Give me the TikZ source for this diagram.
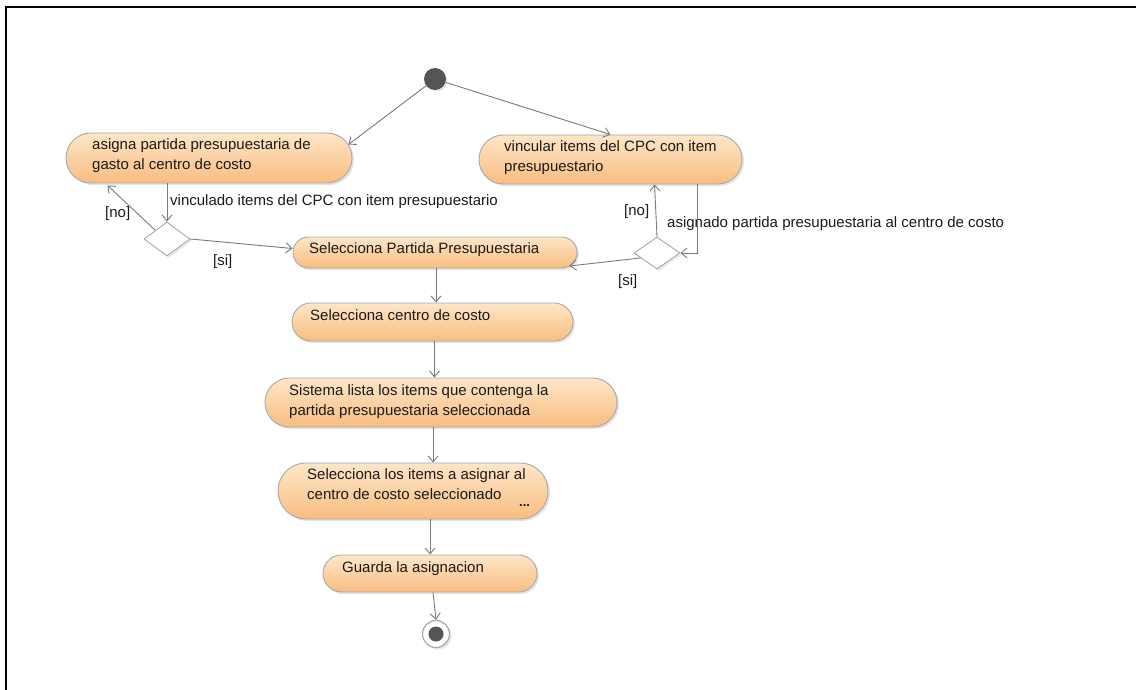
\documentclass[tikz,border=0pt]{standalone}
\usepackage{fontspec}
\setmainfont{Liberation Sans}
\usetikzlibrary{shapes.geometric,arrows.meta,calc,shadows}
\definecolor{linegray}{HTML}{7A7A7A}
\definecolor{boxborder}{HTML}{A8A8A8}
\definecolor{fillTop}{HTML}{FEE6C8}
\definecolor{fillBot}{HTML}{F8BD80}
\definecolor{dotgray}{HTML}{555555}
\definecolor{txtcol}{HTML}{1A1A1A}
\begin{document}
\begin{tikzpicture}[x=1pt,y=-1pt,
  act/.style={draw=boxborder, line width=0.9pt, top color=fillTop, bottom color=fillBot, inner sep=0pt,
    drop shadow={shadow xshift=2pt, shadow yshift=-2pt, opacity=0.22}},
  dec/.style={diamond, draw=boxborder, fill=white, line width=0.9pt, inner sep=0pt,
    drop shadow={shadow xshift=2pt, shadow yshift=-2pt, opacity=0.18}},
  lbl/.style={font=\fontsize{15}{18}\selectfont, text=txtcol, inner sep=0pt, anchor=base west},
  arr/.style={draw=linegray, line width=0.9pt, -{Straight Barb[length=6pt,width=10pt,line width=0.9pt]}}
]
\useasboundingbox (0,0) rectangle (1136,690);
% frame
\draw[line width=2.5pt] (6,690) -- (6,7) -- (1136,7);

% start / end
\node[circle, fill=dotgray, minimum size=22pt, inner sep=0pt,
  drop shadow={shadow xshift=1.5pt, shadow yshift=-1.5pt, opacity=0.18}] (init) at (435,79) {};
\node[circle, draw=boxborder, fill=white, line width=1.2pt, minimum size=27pt, inner sep=0pt,
  drop shadow={shadow xshift=2pt, shadow yshift=-2pt, opacity=0.2}] (fin) at (436,634) {};
\node[circle, fill=dotgray, minimum size=15pt, inner sep=0pt] (finin) at (fin.center) {};

% activities
\node[act, minimum width=286pt, minimum height=50pt, rounded corners=24.9pt] (A) at (209,158) {};
\node[act, minimum width=263pt, minimum height=49pt, rounded corners=24.4pt] (B) at (610.5,159.5) {};
\node[act, minimum width=284pt, minimum height=31pt, rounded corners=15.4pt] (C) at (435,252.5) {};
\node[act, minimum width=281pt, minimum height=38pt, rounded corners=18.9pt] (D) at (432.5,322) {};
\node[act, minimum width=352pt, minimum height=49pt, rounded corners=24.4pt] (E) at (441,402.5) {};
\node[act, minimum width=270pt, minimum height=56pt, rounded corners=27.9pt] (F) at (413,491) {};
\node[act, minimum width=214pt, minimum height=37pt, rounded corners=18.4pt] (G) at (430,573.5) {};

% decisions
\node[dec, minimum width=46pt, minimum height=34pt] (D1) at (167,239) {};
\node[dec, minimum width=46pt, minimum height=32pt] (D2) at (657,253) {};

% texts in activities
\node[lbl] (tA1) at (92,150) {asigna partida presupuestaria de};
\node[lbl] (tA2) at (92,170) {gasto al centro de costo};
\node[lbl] (tB1) at (504,152) {vincular items del CPC con item};
\node[lbl] (tB2) at (504,172) {presupuestario};
\node[lbl] (tC) at (309,253) {Selecciona Partida Presupuestaria};
\node[lbl] (tD) at (310,320) {Selecciona centro de costo};
\node[lbl] (tE1) at (289,395) {Sistema lista los items que contenga la};
\node[lbl] (tE2) at (289,415) {partida presupuestaria seleccionada};
\node[lbl] (tF1) at (307,479) {Selecciona los items a asignar al};
\node[lbl] (tF2) at (307,499) {centro de costo seleccionado};
\node[lbl, font=\fontsize{13}{15}\selectfont\bfseries] (tF3) at (519,506) {...};
\node[lbl] (tG) at (342,572) {Guarda la asignacion};

% connector labels
\node[lbl] (l1) at (170,205) {vinculado items del CPC con item presupuestario};
\node[lbl] (l2) at (667,227) {asignado partida presupuestaria al centro de costo};
\node[lbl] (no1) at (105,218) {[no]};
\node[lbl] (si1) at (213,265) {[si]};
\node[lbl] (no2) at (624,215) {[no]};
\node[lbl] (si2) at (618,285) {[si]};

% connectors
\draw[arr] (init) -- ($(A.north east)+(-4,12)$);
\draw[arr] (init) -- (B.north);
\draw[arr] (A.south -| D1.north) -- (D1.north);
\draw[arr] (D1.north west) -- ($(A.south west)+(42,2)$);
\draw[arr] (D1.east) -- ($(C.west)+(0,-4)$);
\draw[arr] ($(B.south east)+(-45,0)$) |- (D2.east);
\draw[arr] (D2.north) -- ($(B.south west)+(176,0)$);
\draw[arr] ($(D2.west)!0.3!(D2.south)$) -- ($(C.east)+(-8,13.5)$);
\coordinate (c1) at ($(C.south)+(1,0)$);
\draw[arr] (c1) -- (c1 |- D.north);
\coordinate (d1) at ($(D.south)+(2,0)$);
\draw[arr] (d1) -- (d1 |- E.north);
\coordinate (e1) at ($(E.south)+(-8,0)$);
\draw[arr] (e1) -- (e1 |- F.north);
\draw[arr] (G.north |- F.south) -- (G.north);
\coordinate (g1) at ($(G.south)+(3,0)$);
\draw[arr] (g1) -- (fin.north);
\end{tikzpicture}
\end{document}
